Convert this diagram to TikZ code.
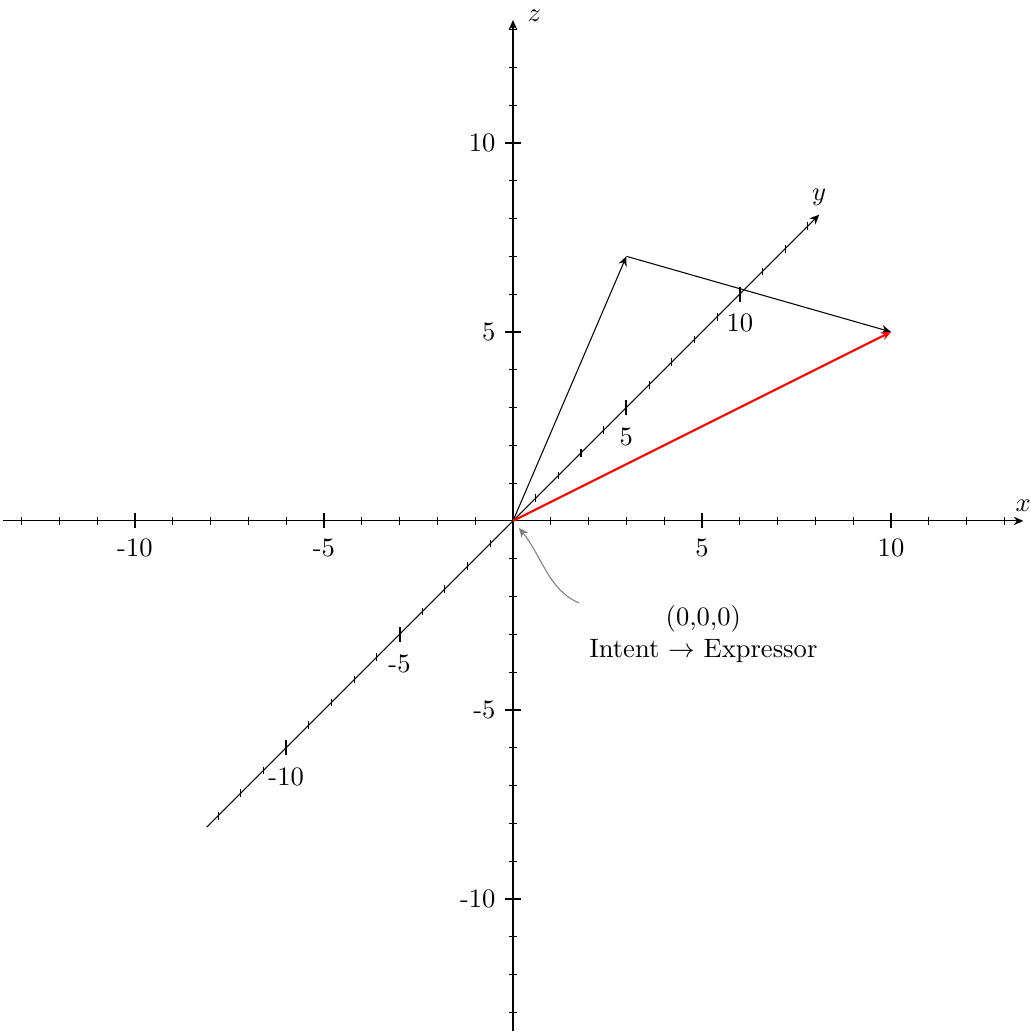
\documentclass[tikz,border=0pt]{standalone}
\usepackage{amsmath, amssymb}
\usetikzlibrary{arrows.meta}

\begin{document}
\begin{tikzpicture}[x={(0.5cm,0cm)},y={(0.3cm,0.3cm)},z={(0cm,0.5cm)},
  >={Stealth[length=3.6pt,width=3.2pt]}]
  \useasboundingbox (-13.57,0,-13.52) rectangle (13.68,0,13.78);

  % Axes
  \coordinate (O) at (0,0,0);
  \draw[->] (-13.5,0,0) -- (13.5,0,0) node[above] {$x$};
  \draw[->] (0,-13.5,0) -- (0,13.5,0) node[above] {$y$};
  \draw[->] (0,0,-13.5) -- (0,0,13.25) node[right,xshift=2pt,yshift=1.5pt] {$z$};

  % Ticks
  \foreach \x in {-13,...,-1,1,2,...,13} \draw (\x,0,-0.1) -- (\x,0,0.1);
  \foreach \z in {-13,...,-1,1,2,...,13} \draw (-0.1,0,\z) -- (0.1,0,\z);
  \foreach \y in {-13,...,-1,1,2,...,13} \draw (0,\y,-0.1) -- (0,\y,0.1);
  \foreach \x/\lab in {-10/-10,-5/-5,5/5,10/10} \draw[thick] (\x,0,0.2) -- (\x,0,-0.2) node[below] {\lab};
  \foreach \z/\lab in {-10/-10,-5/-5,5/5,10/10} \draw[thick] (0.2,0,\z) -- (-0.2,0,\z) node[left] {\lab};
  \foreach \y/\lab in {-10/-10,-5/-5,5/5,10/10} \draw[thick] (0,\y,0.2) -- (0,\y,-0.2) node[below=1pt] {\lab};

  % Vectors
  \coordinate (A) at (0,5,4);
  \coordinate (B) at (10,0,5);
  \draw[->] (O) -- (A);
  \draw[->] (A) -- (B);
  \draw[->,thick,red] (O) -- (B);

  % Note at the origin
  \coordinate (tail) at (1.75,0,-2.17);
  \node[align=center,anchor=north west] (note) at (1.77,0,-2.0) {(0,0,0)\\Intent $\rightarrow$ Expressor};
  \draw[->,gray,shorten >=3.5pt] (tail) .. controls (0.95,0,-1.85) and (0.75,0,-0.9) .. (O);
\end{tikzpicture}
\end{document}
